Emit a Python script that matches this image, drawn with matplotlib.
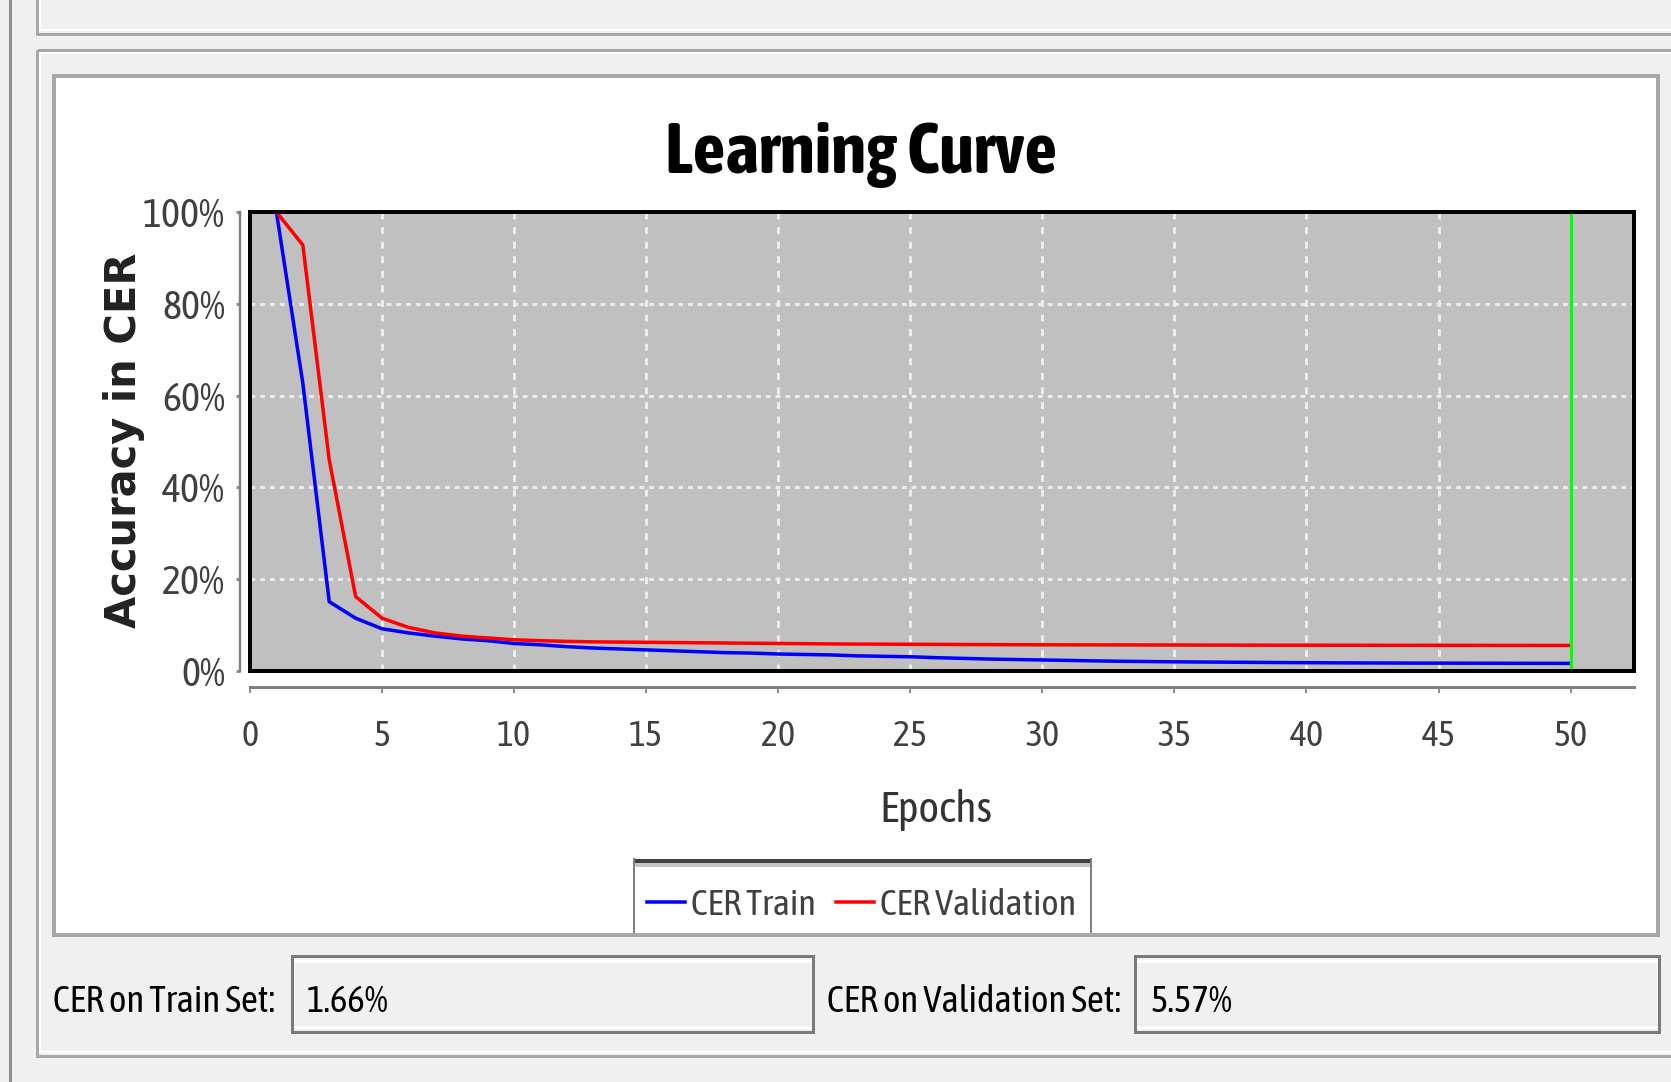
import matplotlib
matplotlib.use('Agg')
import matplotlib.pyplot as plt
from matplotlib.patches import Rectangle

# data (CER in %, per epoch)
epochs = list(range(1, 51))
cer_train = [100, 62.7, 15.1, 11.5, 9.2, 8.3, 7.6, 7.0, 6.6, 6.0,
             5.7, 5.3, 5.0, 4.8, 4.6, 4.4, 4.2, 4.0, 3.9, 3.7,
             3.6, 3.5, 3.3, 3.2, 3.1, 2.9, 2.75, 2.6, 2.5, 2.4,
             2.3, 2.2, 2.12, 2.06, 2.0, 1.96, 1.92, 1.88, 1.84, 1.81,
             1.78, 1.76, 1.74, 1.72, 1.71, 1.70, 1.69, 1.68, 1.67, 1.66]
cer_val = [100, 92.8, 46.0, 16.2, 11.5, 9.5, 8.3, 7.6, 7.2, 6.8,
           6.6, 6.45, 6.35, 6.3, 6.25, 6.2, 6.15, 6.1, 6.05, 6.0,
           5.95, 5.9, 5.87, 5.85, 5.82, 5.8, 5.77, 5.75, 5.73, 5.71,
           5.7, 5.69, 5.68, 5.67, 5.66, 5.65, 5.64, 5.63, 5.62, 5.62,
           5.61, 5.61, 5.6, 5.6, 5.59, 5.59, 5.58, 5.58, 5.57, 5.57]
x_ticks = list(range(0, 55, 5))
y_ticks = [0, 20, 40, 60, 80, 100]
y_ticklabels = ['0%', '20%', '40%', '60%', '80%', '100%']
series_labels = ['CER Train', 'CER Validation']
final_train = '1.66%'
final_val = '5.57%'
current_epoch = 50

plt.rcParams['font.family'] = ['Asap Condensed', 'Archivo Narrow', 'Liberation Sans', 'DejaVu Sans']
plt.rcParams['lines.scale_dashes'] = False

W, H = 1671, 1082
def px(v):
    return v * 0.72  # pixels -> points at dpi 100

fig = plt.figure(figsize=(W / 100, H / 100), dpi=100, facecolor='#f0f0f0')
renderer = fig.canvas.get_renderer()

def fit(t, w_px, max_pt):
    # shrink a text until it is no wider than the reference text
    t.set_fontsize(max_pt)
    w = t.get_window_extent(renderer).width
    if w > w_px:
        t.set_fontsize(max_pt * w_px / w)
    return t.get_fontsize()

# window chrome, drawn in pixel coordinates
bg = fig.add_axes([0, 0, 1, 1])
bg.set_xlim(0, W)
bg.set_ylim(H, 0)
bg.axis('off')
border = '#a8a8ac'

bg.plot([10, 10], [0, H], color='#8e8e8e', lw=px(3))
bg.add_patch(Rectangle((37, -20), 1700, 54, fill=False, ec=border, lw=px(3)))
bg.plot([40, W], [30, 30], color='white', lw=px(2))
bg.plot([40, 40], [0, 30], color='white', lw=px(2))
bg.add_patch(Rectangle((37, 50), 1700, 1006, fill=False, ec=border, lw=px(3)))
bg.plot([40, W], [53, 53], color='white', lw=px(2))
bg.plot([40, 40], [53, 1052], color='white', lw=px(2))
bg.plot([40, W], [1052, 1052], color='white', lw=px(2))
bg.add_patch(Rectangle((54, 76), 1604, 859, fc='white', ec=border, lw=px(4)))

# legend frame (clipped at the panel bottom)
bg.plot([633, 1092], [861, 861], color='#404040', lw=px(4), solid_capstyle='butt')
bg.plot([635, 1090], [865, 865], color='#c4c4c4', lw=px(4), solid_capstyle='butt')
bg.plot([634, 634], [859, 932], color='#808080', lw=px(2))
bg.plot([1091, 1091], [859, 932], color='#808080', lw=px(2))

t = bg.text(861, 173, 'Learning Curve', ha='center', va='baseline',
            fontweight='bold', color='black')
fit(t, 392, 56)
bg.text(124, 440, 'Accuracy in CER', rotation=90, ha='center', va='center',
        fontsize=30, fontweight='bold', color='#222222', family='DejaVu Sans')
t = bg.text(936, 822, 'Epochs', ha='center', va='baseline', color='#333333')
fit(t, 113, 34)

# bottom status fields
for box_x, box_w in [(292, 521), (1135, 524)]:
    bg.add_patch(Rectangle((box_x, 956), box_w, 76, fc='#f0f0f0', ec='#7a7a7a', lw=px(3)))
    bg.plot([box_x + 3, box_x + box_w - 3], [961, 961], color='white', lw=px(3))
    bg.plot([box_x + 3, box_x + box_w - 3], [1027, 1027], color='white', lw=px(3))
t1 = bg.text(53, 1012, 'CER on Train Set:', ha='left', va='baseline', color='black')
s1 = fit(t1, 226, 32)
t2 = bg.text(827, 1012, 'CER on Validation Set:', ha='left', va='baseline', color='black')
s2 = fit(t2, 295, 32)
s_lab = min(s1, s2)
t1.set_fontsize(s_lab)
t2.set_fontsize(s_lab)
bg.text(307, 1012, final_train, ha='left', va='baseline', fontsize=s_lab, color='black')
bg.text(1151, 1012, final_val, ha='left', va='baseline', fontsize=s_lab, color='black')

# tick label sizes from probe texts
probe = bg.text(0, 0, '100%')
s_ytick = fit(probe, 82, 31)
probe.set_text('50')
s_xtick = fit(probe, 34, 32)
probe.set_text('CER Validation')
s_leg = fit(probe, 196, 34)
probe.remove()

# plot area
x0, x1, y0, y1 = 250, 1634, 212, 671
ax = fig.add_axes([x0 / W, (H - y1) / H, (x1 - x0) / W, (y1 - y0) / H])
ax.set_facecolor('#c0c0c0')
ax.set_xlim(0, 52.4)
ax.set_ylim(0, 100)

ax.set_xticks(x_ticks)
ax.set_yticks(y_ticks)
ax.set_yticklabels(y_ticklabels)
ax.xaxis.grid(True, color='#ececec', lw=px(3), ls=(0, (5, 5.5)))
ax.yaxis.grid(True, color='#ececec', lw=px(3), ls=(0, (3.5, 3.5)))
ax.set_axisbelow(True)

l_train, = ax.plot(epochs, cer_train, color='#0000ff', lw=px(3.5), zorder=3)
l_val, = ax.plot(epochs, cer_val, color='#ff0000', lw=px(3.5), zorder=3)
ax.axvline(current_epoch, color='#00ff00', lw=px(3), zorder=4)

ax.add_patch(Rectangle((0, 0), 1, 1, transform=ax.transAxes, fill=False,
                       ec='black', lw=px(4), zorder=6, clip_on=False))
for s in ['top', 'right']:
    ax.spines[s].set_visible(False)
ax.spines['bottom'].set_position(('outward', px(16)))
ax.spines['left'].set_position(('outward', px(10)))
ax.spines['bottom'].set_color('#808080')
ax.spines['left'].set_color('#808080')
ax.spines['bottom'].set_linewidth(px(3))
ax.spines['left'].set_linewidth(px(2.5))
ax.tick_params(axis='x', direction='out', length=px(6), width=px(2), color='#909090',
               pad=19, labelsize=s_xtick, labelcolor='#404040')
ax.tick_params(axis='y', direction='out', length=px(4), width=px(3), color='#909090',
               pad=8, labelsize=s_ytick, labelcolor='#404040')

em = s_leg / 0.72  # legend font size in pixels
fig.legend([l_train, l_val], series_labels, loc='center',
           bbox_to_anchor=(862 / W, 1 - 905 / H), ncol=2, frameon=False,
           fontsize=s_leg, handlelength=38 / em, handletextpad=6 / em,
           columnspacing=20 / em, borderpad=0, labelcolor='#404040')

fig.savefig('out.png', dpi=100, facecolor=fig.get_facecolor())
